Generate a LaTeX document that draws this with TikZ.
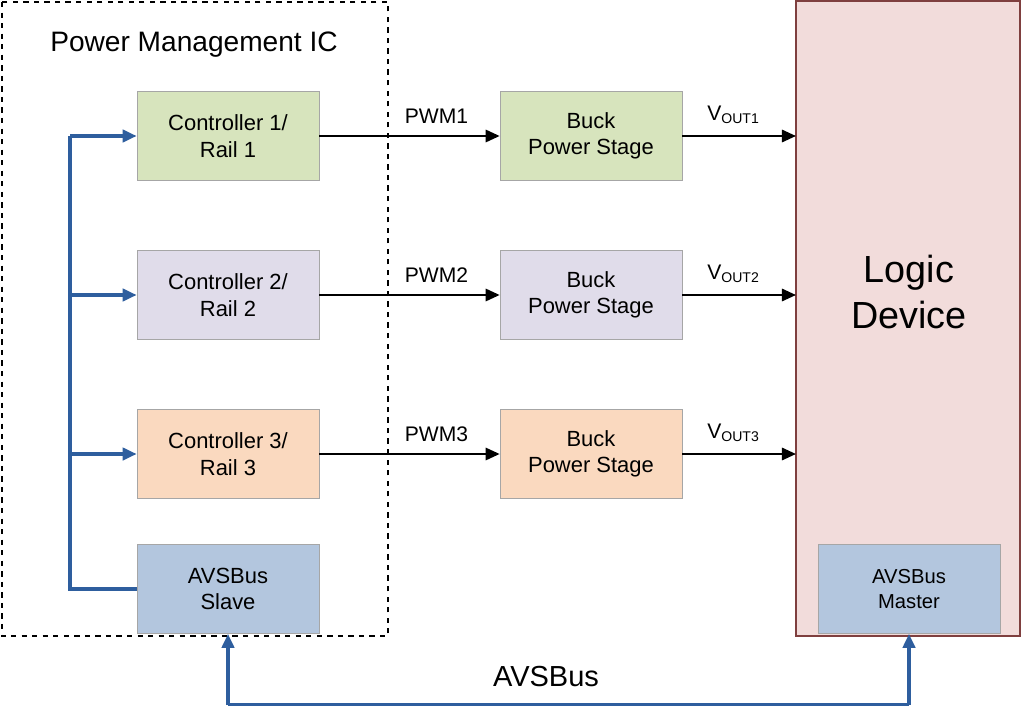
\documentclass[tikz,border=0pt]{standalone}
\usepackage{fontspec}
\setmainfont{Liberation Sans}
\usetikzlibrary{arrows.meta}
\definecolor{railA}{HTML}{D7E4BD}
\definecolor{railB}{HTML}{E0DCEA}
\definecolor{railC}{HTML}{FAD9BF}
\definecolor{busbox}{HTML}{B3C6DE}
\definecolor{logicfill}{HTML}{F2DCDB}
\definecolor{logicline}{HTML}{7F3F3F}
\definecolor{busline}{HTML}{2E5E9E}
\tikzset{
  blk/.style={draw=gray!70,minimum width=3.64cm,minimum height=1.78cm,align=center,font=\fontsize{12.5}{15}\selectfont},
  sig/.style={-{Triangle[length=8pt,width=7pt]},line width=1.3pt},
  bus/.style={-{Triangle[length=8pt,width=7pt]},line width=1.9pt,busline},
  lbl/.style={font=\fontsize{12}{14}\selectfont}
}
\begin{document}
\begin{tikzpicture}[x=0.02cm,y=-0.02cm]
\useasboundingbox (0,0) rectangle (1024,706);

% PMIC outline and logic device
\draw[dashed,line width=0.8pt] (2,2) rectangle (388,636);
\node[font=\fontsize{16}{19}\selectfont] (pmic) at (194,45) {Power Management IC};
\draw[logicline,fill=logicfill,line width=0.8pt] (796,1) rectangle (1020,636);
\node[font=\fontsize{21.5}{26}\selectfont,align=center] (logic) at (909,292) {Logic\\Device};

% Controllers, buck stages and bus ends
\foreach \i/\y/\c in {1/136/railA,2/295/railB,3/454/railC}{
  \node[blk,fill=\c] (ctl\i) at (228,\y) {Controller \i/\\Rail \i};
  \node[blk,fill=\c] (buck\i) at (591,\y) {Buck\\Power Stage};
  \coordinate (in\i) at (796,\y);
  \coordinate (tap\i) at (70,\y);
  \draw[sig] (ctl\i) -- node[lbl,above,pos=0.65,yshift=3pt] {PWM\i} (buck\i);
  \draw[sig] (buck\i) -- node[lbl,above,pos=0.45,yshift=3pt] {V\textsubscript{OUT\i}} (in\i);
  \draw[bus] (tap\i) -- (ctl\i);
}
\node[blk,fill=busbox] (slave) at (228,589) {AVSBus\\Slave};
\node[blk,fill=busbox,font=\fontsize{11.5}{14.5}\selectfont] (master) at (909,589) {AVSBus\\Master};

% AVSBus wiring
\coordinate (tapS) at (70,589);
\draw[busline,line width=1.9pt] (slave.west) -- (tapS) -- (tap1);
\coordinate (busL) at (228,705);
\coordinate (busR) at (909,705);
\draw[bus] (busL) -- (slave.south);
\draw[bus] (busR) -- (master.south);
\draw[busline,line width=1.9pt] (busL) -- node[above,black,font=\fontsize{16.5}{19}\selectfont,yshift=6pt,pos=0.467] (buslbl) {AVSBus} (busR);
\end{tikzpicture}
\end{document}
